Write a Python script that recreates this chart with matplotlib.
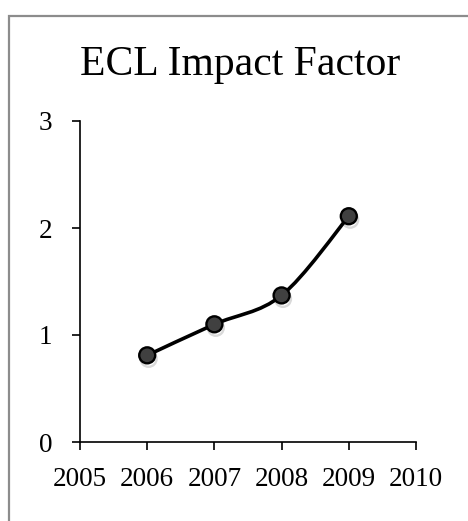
import numpy as np
import matplotlib.pyplot as plt
import matplotlib.patheffects as pe
from matplotlib.path import Path
from matplotlib.patches import PathPatch, Rectangle

years = [2006, 2007, 2008, 2009]
impact = [0.81, 1.10, 1.37, 2.11]
title = 'ECL Impact Factor'
xticks = [2005, 2006, 2007, 2008, 2009, 2010]
yticks = [0, 1, 2, 3]

plt.rcParams['font.family'] = ['Liberation Serif', 'DejaVu Serif']

fig = plt.figure(figsize=(4.68, 5.21), dpi=100)
ax = fig.add_axes([80/468, 1-442/521, (416-80)/468, (442-121)/521])

# excel style smoothed line (catmull-rom as cubic bezier)
pts = np.column_stack([years, impact]).astype(float)
verts = [pts[0]]
codes = [Path.MOVETO]
n = len(pts)
for i in range(n-1):
    p0 = pts[max(i-1, 0)]
    p1 = pts[i]
    p2 = pts[i+1]
    p3 = pts[min(i+2, n-1)]
    c1 = p1 + (p2 - p0)/6.0
    c2 = p2 - (p3 - p1)/6.0
    verts += [c1, c2, p2]
    codes += [Path.CURVE4]*3
curve = PathPatch(Path(verts, codes), facecolor='none', edgecolor='black', lw=2.6,
                  capstyle='round', zorder=2)
ax.add_patch(curve)

ax.plot(years, impact, linestyle='none', marker='o', markersize=11.5,
        markerfacecolor='#404040', markeredgecolor='black', markeredgewidth=1.7,
        zorder=3,
        path_effects=[pe.SimpleLineShadow(offset=(1.0, -2.5), shadow_color='black', alpha=0.15),
                      pe.Normal()])

ax.set_xlim(2005, 2010)
ax.set_ylim(0, 3)
ax.set_xticks(xticks)
ax.set_yticks(yticks)
ax.set_xticklabels([str(x) for x in xticks])
ax.set_yticklabels([str(y) for y in yticks])
for s in ['top', 'right']:
    ax.spines[s].set_visible(False)
for s in ['left', 'bottom']:
    ax.spines[s].set_linewidth(1.2)
ax.tick_params(axis='both', direction='out', length=6, width=1.2, labelsize=19.5, colors='black')
ax.tick_params(axis='x', pad=12)
ax.tick_params(axis='y', pad=14)

fig.text(0.513, 1-75/521, title, ha='center', va='baseline', fontsize=30)

# chart border
fig.add_artist(Rectangle((9/468, -0.1), 1.2, 1-16/521+0.1, transform=fig.transFigure,
                         fill=False, edgecolor='#8c8c8c', lw=1.6))

fig.savefig('out.png', dpi=100)
